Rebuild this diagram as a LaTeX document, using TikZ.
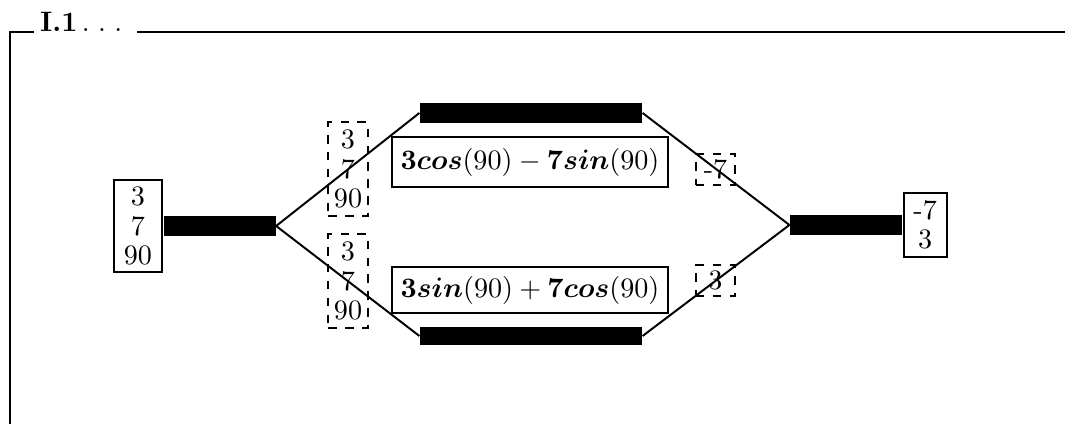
\documentclass[tikz,border=0pt]{standalone}
\usepackage{amsmath}
\usepackage{tikz}
\usetikzlibrary{positioning}

\begin{document}
\begin{tikzpicture}[
  x=0.0125cm,y=-0.0125cm,
  valbox/.style={draw,line width=0.7pt,inner sep=1pt,align=center,font=\fontsize{10}{10.5}\selectfont},
  tmpbox/.style={draw,dashed,line width=0.7pt,inner sep=1pt,align=center,font=\fontsize{10}{10.5}\selectfont},
  eqbox/.style={draw,line width=0.7pt,minimum width=3.45cm,inner sep=1pt},
  bar/.style={fill=black,inner sep=0pt,minimum height=0.25cm},
  wire/.style={line width=0.7pt}
]
\useasboundingbox (0,0) rectangle (1065,424);
% frame and title
\node[anchor=base west,inner sep=2pt] (title) at (34,32) {\textbf{I.1}\kern1.5pt.\kern3pt.\kern3pt.};
\draw[line width=1pt] (1065,32) -- ([xshift=3pt]title.base east);
\draw[line width=1pt] (10,424) -- (10,32) -- (title.base west);
% input side
\node[valbox,minimum width=0.6cm,minimum height=1.15cm] (inbox) at (138,226) {3\\7\\90};
\node[bar,minimum width=1.4cm,right=0pt of inbox] (inbar) {};
% two branches
\node[bar,minimum width=2.775cm] (ubar) at (531,113) {};
\node[bar,minimum width=2.775cm,minimum height=0.22cm] (lbar) at (531,336) {};
\node[eqbox,minimum height=0.625cm] (ueq) at (530,162) {$\boldsymbol{3cos}(90)-\boldsymbol{7sin}(90)$};
\node[eqbox,minimum height=0.575cm] (leq) at (530,290) {$\boldsymbol{3sin}(90)+\boldsymbol{7cos}(90)$};
\node[tmpbox,minimum width=0.49cm,minimum height=1.175cm] (uin) at (348,169) {3\\7\\90};
\node[tmpbox,minimum width=0.49cm,minimum height=1.175cm] (lin) at (348,281) {3\\7\\90};
\node[tmpbox,minimum width=0.49cm,minimum height=0.39cm] (uout) at (715.5,169.5) {-7};
\node[tmpbox,minimum width=0.49cm,minimum height=0.39cm] (lout) at (715.5,280.5) {3};
% output side
\node[bar,minimum width=1.4cm] (outbar) at (846,225) {};
\node[valbox,minimum width=0.54cm,minimum height=0.81cm,right=0pt of outbar] (outbox) {-7\\3};
\draw[wire] (inbar.east) -- (ubar.west);
\draw[wire] (inbar.east) -- (lbar.west);
\draw[wire] (ubar.east) -- (outbar.west);
\draw[wire] (lbar.east) -- (outbar.west);
\end{tikzpicture}
\end{document}
